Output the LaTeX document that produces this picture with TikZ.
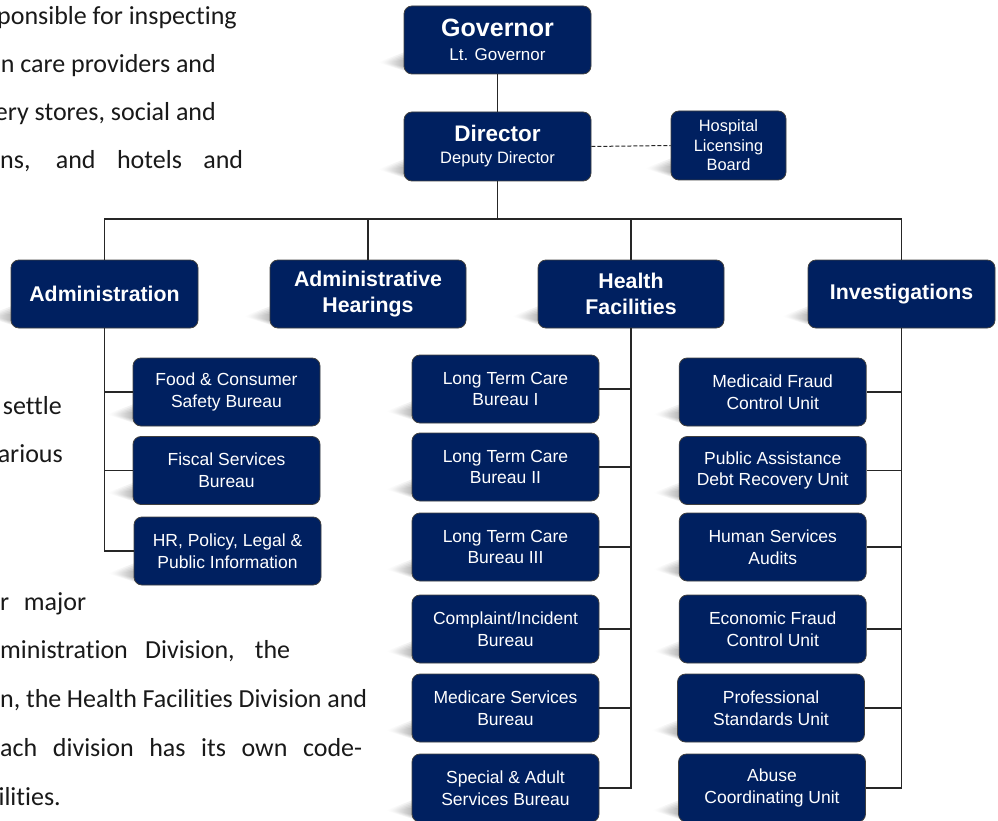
\documentclass[tikz,border=0pt]{standalone}
\usepackage{fontspec}
\newfontfamily\arialf{Liberation Sans}
\newfontfamily\calib[Ligatures={NoCommon}]{Carlito}
\usetikzlibrary{calc}
\definecolor{navy}{HTML}{002060}
\pgfdeclarelayer{bg}
\pgfsetlayers{bg,main}
\newcommand{\dropshade}[1]{%
  \foreach \d in {0,2,4,6,8}{%
    \shade[left color=white, right color=black, opacity=0.07]
      ($(#1.south west)+(-26+\d,-12)$) -- ($(#1.south west)+(3,-23+\d)$) -- ($(#1.south west)+(3,-3-\d/2)$) -- cycle;}}
\begin{document}
\begin{tikzpicture}[x=1pt,y=-1pt,
 orgbox/.style={rectangle, rounded corners=8pt, fill=navy, draw=black!75, line width=0.8pt, text=white, align=center, inner sep=0pt, minimum width=187pt, minimum height=68pt, font=\arialf\fontsize{17.5}{21.7}\selectfont},
 divbox/.style={orgbox, font=\arialf\bfseries\fontsize{21.3}{25.5}\selectfont},
 conn/.style={draw=black!85, line width=1.2pt},
 para/.style={inner sep=0pt, font=\calib\fontsize{26}{30}\selectfont, text=black!90}]
\useasboundingbox (0,0) rectangle (998,821);
\clip (0,0) rectangle (998,821);

% paragraph fragments
\node[para, anchor=base east] (p1) at (237,25) {ponsible for inspecting};
\node[para, anchor=base east] (p2) at (216,73) {n care providers and};
\node[para, anchor=base east] (p3) at (216,121) {ery stores, social and};
\node[para, anchor=base west] (p4) at (0,169) {\makebox[243pt][s]{ns, and hotels and}};
\node[para, anchor=base east] (p5) at (62,414) {settle};
\node[para, anchor=base east] (p6) at (63,462.5) {arious};
\node[para, anchor=base west] (p7) at (0,610) {\makebox[86pt][s]{r major}};
\node[para, anchor=base west] (p8) at (0,658.5) {\makebox[290pt][s]{ministration Division, the}};
\node[para, anchor=base west] (p9) at (0,707.5) {\makebox[367pt][s]{n, the Health Facilities Division and}};
\node[para, anchor=base west] (p10) at (0,756) {\makebox[362pt][s]{ach division has its own code-}};
\node[para, anchor=base east] (p11) at (61,805) {ilities.};

% top
\node[orgbox, font=\arialf\fontsize{17}{24}\selectfont] (gov) at (497.5,40) {{\fontsize{25}{24}\selectfont\bfseries Governor}\\Lt. Governor};
\node[orgbox, minimum height=69pt, font=\arialf\fontsize{16.5}{22}\selectfont] (dir) at (497.5,146.5) {{\fontsize{22.5}{22}\selectfont\bfseries Director}\\Deputy Director};
\node[orgbox, minimum width=115pt, minimum height=69pt, font=\arialf\fontsize{16.4}{19.5}\selectfont] (hlb) at (728.5,145.5) {Hospital\\Licensing\\Board};

% divisions
\node[divbox] (adm) at (104.5,294) {Administration};
\node[divbox, minimum width=196pt] (ahr) at (368,294) {Administrative\\Hearings};
\node[divbox, minimum width=186pt] (hf) at (631,294) {Health\\Facilities};
\node[divbox] (inv) at (901.5,294) {Investigations};

% administration units
\node[orgbox] (food) at (226.5,392) {Food \& Consumer\\Safety Bureau};
\node[orgbox] (fisc) at (226.5,470.5) {Fiscal Services\\Bureau};
\node[orgbox] (hr) at (227.5,551) {HR, Policy, Legal \&\\Public Information};

% health facilities units
\node[orgbox] (ltc1) at (505.5,389) {Long Term Care\\Bureau I};
\node[orgbox] (ltc2) at (505.5,467) {Long Term Care\\Bureau II};
\node[orgbox] (ltc3) at (505.5,547) {Long Term Care\\Bureau III};
\node[orgbox] (comp) at (505.5,629) {Complaint/Incident\\Bureau};
\node[orgbox] (medi) at (505.5,708) {Medicare Services\\Bureau};
\node[orgbox] (spec) at (505.5,788) {Special \& Adult\\Services Bureau};

% investigations units
\node[orgbox] (mfcu) at (772.7,392) {Medicaid Fraud\\Control Unit};
\node[orgbox] (pa) at (772.7,470.5) {Public Assistance\\Debt Recovery Unit};
\node[orgbox] (hsa) at (772.7,547) {Human Services\\Audits};
\node[orgbox] (efcu) at (772.7,629) {Economic Fraud\\Control Unit};
\node[orgbox] (psu) at (771,708) {Professional\\Standards Unit};
\node[orgbox] (acu) at (772,788) {Abuse\\Coordinating Unit};

% shadows
\begin{pgfonlayer}{bg}
\foreach \n in {gov,dir,hlb,adm,ahr,hf,inv,food,fisc,hr,ltc1,ltc2,ltc3,comp,medi,spec,mfcu,pa,hsa,efcu,psu,acu}{\dropshade{\n}}
\end{pgfonlayer}

% connectors
\coordinate (bar) at (497.5,219);
\draw[conn] (gov) -- (dir);
\draw[conn] (dir.south) -- (dir.south |- bar);
\draw[conn] (adm.north) |- (inv.north |- bar) -- (inv.north);
\draw[conn] (ahr.north) -- (ahr.north |- bar);
\draw[conn] (hf.north) -- (hf.north |- bar);
\draw[conn, line width=1pt, dash pattern=on 4pt off 2pt] (dir.east) -- (hlb.west);

\draw[conn] (adm.south) |- (hr.west);
\draw[conn] (adm.south |- food.west) -- (food.west);
\draw[conn] (adm.south |- fisc.west) -- (fisc.west);

\draw[conn] (hf.south) |- (spec.east);
\foreach \n in {ltc1,ltc2,ltc3,comp,medi}{\draw[conn] (hf.south |- \n.east) -- (\n.east);}

\draw[conn] (inv.south) |- (acu.east);
\foreach \n in {mfcu,pa,hsa,efcu,psu}{\draw[conn] (inv.south |- \n.east) -- (\n.east);}
\end{tikzpicture}
\end{document}
